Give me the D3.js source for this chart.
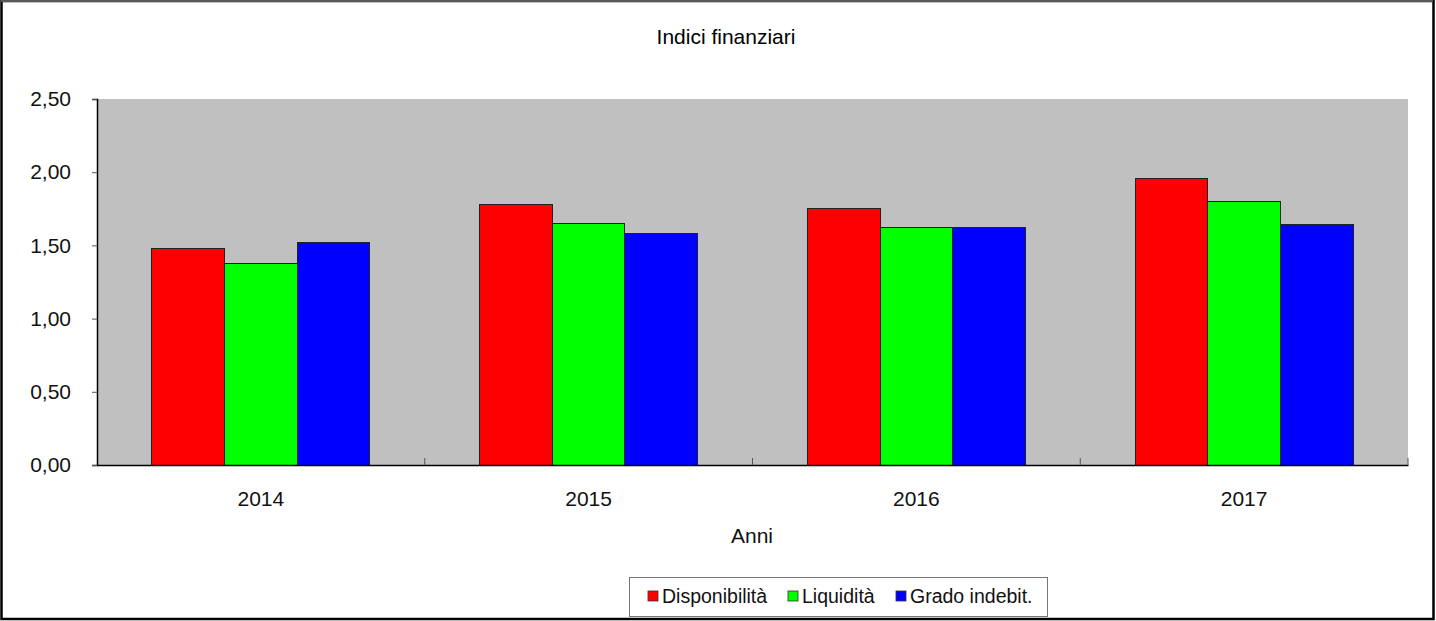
<!DOCTYPE html>
<html lang="it">
    <head>
        <meta charset="utf-8" />
        <script src="https://cdnjs.cloudflare.com/ajax/libs/d3/7.1.1/d3.min.js"></script>
        <title>Indici finanziari</title>
        <style>
            body { margin: 0; background: #fff; }
            svg { display: block; font-family: 'Liberation Sans', Arial, sans-serif; }
        </style>
    </head>
    <body>
        <div id="chart"></div>
        <script>

        // Data
        const years = ['2014', '2015', '2016', '2017'];
        const seriesNames = ['Disponibilità', 'Liquidità', 'Grado indebit.'];
        const disponibilita = [1.48, 1.78, 1.755, 1.96];
        const liquidita = [1.375, 1.653, 1.62, 1.803];
        const gradoIndebit = [1.523, 1.58, 1.62, 1.641];
        const yTicks = [0, 0.5, 1, 1.5, 2, 2.5];
        const colors = ['#ff0000', '#00ff00', '#0000ff'];

        const width = 1436;
        const height = 621;
        const plot = { left: 97, right: 1408, top: 99, bottom: 465 };

        const svg = d3
            .select('#chart')
            .append('svg')
            .attr('width', width)
            .attr('height', height);

        // outer frame
        svg.append('rect')
            .attr('x', 1.5).attr('y', 1)
            .attr('width', width - 4).attr('height', height - 3)
            .attr('fill', '#fff')
            .attr('stroke', '#000')
            .attr('stroke-width', 2.5);
        svg.append('line')
            .attr('x1', 1).attr('x2', width - 3)
            .attr('y1', 1).attr('y2', 1)
            .attr('stroke', '#777').attr('stroke-width', 1.5);

        // Title
        svg.append('text')
            .attr('x', 726).attr('y', 44)
            .attr('text-anchor', 'middle')
            .attr('font-size', 21)
            .text('Indici finanziari');

        // Scales
        const x0 = d3.scaleBand().domain(years).range([plot.left, plot.right]).padding(0);
        const x1 = d3
            .scaleBand()
            .domain(seriesNames)
            .range([0, x0.bandwidth()])
            .paddingInner(0)
            .paddingOuter(0.755);
        const y = d3.scaleLinear().domain([0, 2.5]).range([plot.bottom, plot.top]);

        // plot background
        svg.append('rect')
            .attr('x', plot.left).attr('y', plot.top)
            .attr('width', plot.right - plot.left)
            .attr('height', plot.bottom - plot.top)
            .attr('fill', '#c0c0c0');

        // Bars
        const values = [disponibilita, liquidita, gradoIndebit];
        const rows = [];
        years.forEach((yr, i) => {
            seriesNames.forEach((s, j) => {
                rows.push({ year: yr, series: s, value: values[j][i], color: colors[j] });
            });
        });

        svg.append('g')
            .selectAll('rect')
            .data(rows)
            .enter()
            .append('rect')
            .attr('x', (d) => x0(d.year) + x1(d.series))
            .attr('y', (d) => y(d.value))
            .attr('width', x1.bandwidth())
            .attr('height', (d) => y(0) - y(d.value))
            .attr('fill', (d) => d.color)
            .attr('stroke', '#222')
            .attr('stroke-width', 1)
            .attr('shape-rendering', 'crispEdges');

        // Y axis
        const yAxis = svg.append('g')
            .attr('transform', `translate(${plot.left},0)`)
            .call(d3.axisLeft(y)
                .tickValues(yTicks)
                .tickSize(5)
                .tickPadding(21)
                .tickFormat((d) => d3.format('.2f')(d).replace('.', ',')));
        yAxis.select('.domain').attr('stroke', '#000').attr('stroke-width', 1.5);
        yAxis.selectAll('.tick line').attr('stroke', '#555');
        yAxis.selectAll('text').attr('font-size', 21).attr('fill', '#111')
            .attr('font-family', "'Liberation Sans', Arial, sans-serif");

        // X axis
        const xAxis = svg.append('g')
            .attr('transform', `translate(0,${plot.bottom})`)
            .call(d3.axisBottom(x0).tickSize(0).tickPadding(26));
        xAxis.select('.domain').attr('stroke', '#000').attr('stroke-width', 1.5);
        xAxis.selectAll('text').attr('font-size', 21).attr('fill', '#111')
            .attr('font-family', "'Liberation Sans', Arial, sans-serif");

        // category boundary ticks pointing up
        const bounds = years.map((d) => x0(d)).concat([plot.right]).slice(1);
        svg.append('g')
            .selectAll('line')
            .data(bounds)
            .enter()
            .append('line')
            .attr('x1', (d) => d).attr('x2', (d) => d)
            .attr('y1', plot.bottom).attr('y2', plot.bottom - 7)
            .attr('stroke', '#555');

        svg.append('text')
            .attr('x', 752).attr('y', 543)
            .attr('text-anchor', 'middle')
            .attr('font-size', 21)
            .attr('fill', '#111')
            .text('Anni');

        // Legend
        const legend = svg.append('g');
        legend.append('rect')
            .attr('x', 629.5).attr('y', 577.5)
            .attr('width', 418).attr('height', 39)
            .attr('fill', '#fff')
            .attr('stroke', '#777');
        const legendX = [648, 788, 896];
        const items = legend.selectAll('g.item')
            .data(seriesNames)
            .enter()
            .append('g')
            .attr('class', 'item')
            .attr('transform', (d, i) => `translate(${legendX[i]},591)`);
        items.append('rect')
            .attr('width', 10).attr('height', 10)
            .attr('fill', (d, i) => colors[i])
            .attr('stroke', '#333')
            .attr('stroke-width', 0.8);
        items.append('text')
            .attr('x', 14).attr('y', 12)
            .attr('font-size', 19.5)
            .attr('fill', '#111')
            .text((d) => d);

        </script>
    </body>
</html>
